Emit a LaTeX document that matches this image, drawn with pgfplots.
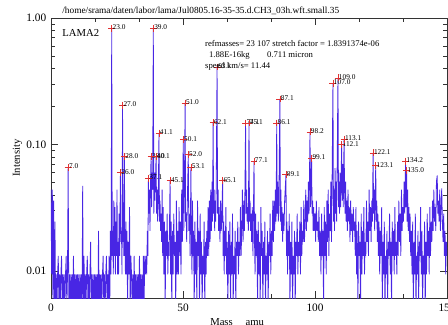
\documentclass[border=0pt]{standalone}
\usepackage{pgfplots}
\pgfplotsset{compat=1.18}
\usepackage{fontspec}
\setmainfont{Liberation Serif}
\definecolor{spec}{RGB}{72,38,228}
\definecolor{mk}{RGB}{225,50,50}
\begin{document}
\begin{tikzpicture}
\useasboundingbox (-38.25pt,-19.5pt) rectangle (297.75pt,223.5pt);
\begin{axis}[
  at={(0,0)}, anchor=south west,
  width=297pt, height=210pt, scale only axis,
  xmin=0, xmax=150, ymode=log, ymin=0.00612, ymax=1.0,
  xtick={0,50,100,150}, minor x tick num=2,
  ytick={0.01,0.1,1}, yticklabels={0.01,0.10,1.00},
  tick align=inside, major tick length=5pt, minor tick length=2.8pt,
  tick style={black!80, line width=0.4pt},
  axis line style={black!80, line width=0.4pt},
  /pgf/number format/assume math mode=true,
  tick label style={font=\fontsize{8.5}{9}\selectfont},
  xticklabel style={yshift=-1pt},
  xlabel={Mass\hspace{1.2em}amu},
  ylabel={Intensity},
  label style={font=\fontsize{8}{9}\selectfont},
  xlabel style={at={(axis description cs:0.47,0)}, anchor=north, yshift=-12pt},
  ylabel style={at={(axis description cs:0,0.5)}, anchor=south, yshift=18pt},
  clip mode=individual,
]
\addplot[spec, line width=0.6pt] coordinates {
(0,0.044)(0.25,0.0094)(0.5,0.044)(0.75,0.005)(1,0.036)(1.25,0.005)(1.5,0.0246)(1.75,0.005)(2,0.0094)(2.25,0.005)(2.5,0.0094)(2.75,0.0132)(3,0.005)(3.25,0.0094)(3.5,0.005)(3.75,0.0094)(4,0.0132)(4.25,0.005)(4.5,0.0094)(4.75,0.005)(5,0.0094)(5.25,0.005)(5.5,0.0094)(5.75,0.0132)(6,0.005)(6.25,0.0094)(6.5,0.066)(6.75,0.005)(7,0.0094)(7.25,0.005)(7.5,0.0094)(7.75,0.005)(8,0.0094)(8.25,0.005)(8.5,0.0132)(8.75,0.005)(9,0.0094)(9.25,0.005)(9.5,0.0094)(9.75,0.005)(10,0.0094)(10.25,0.005)(10.5,0.0094)(10.75,0.005)(11,0.0094)(11.25,0.005)(11.5,0.0094)(11.75,0.005)(12,0.047)(12.25,0.005)(12.5,0.0132)(12.75,0.005)(13,0.0094)(13.25,0.005)(13.5,0.0094)(13.75,0.0132)(14,0.005)(14.25,0.0094)(14.5,0.005)(14.75,0.0094)(15,0.017)(15.25,0.005)(15.5,0.0094)(15.75,0.005)(16,0.0094)(16.25,0.005)(16.5,0.0094)(16.75,0.005)(17,0.0094)(17.25,0.005)(17.5,0.0094)(17.75,0.005)(18,0.0208)(18.25,0.005)(18.5,0.0094)(18.75,0.005)(19,0.0094)(19.25,0.005)(19.5,0.0094)(19.75,0.0132)(20,0.005)(20.25,0.0094)(20.5,0.005)(20.75,0.0094)(21,0.0132)(21.25,0.005)(21.5,0.0094)(21.75,0.005)
(22,0.0132)(22.25,0.005)(22.5,0.0208)(22.75,0.0094)(23,0.83)(23.2,0.0132)(23.4,0.0208)(23.6,0.0094)(23.8,0.036)(24,0.0132)(24.2,0.032)(24.4,0.0094)(24.6,0.0246)(24.8,0.0132)(25,0.044)(25.2,0.0094)(25.4,0.017)(25.6,0.0094)(25.8,0.0284)(26,0.0132)(26.3,0.06)(26.5,0.017)(26.7,0.0208)(26.9,0.0094)(27.1,0.205)(27.3,0.017)(27.5,0.0208)(27.6,0.0132)(27.8,0.08)(28,0.017)(28.2,0.0094)(28.4,0.0246)(28.6,0.0094)(28.8,0.0208)(29,0.005)(29.25,0.017)(29.5,0.0094)(29.75,0.032)(30,0.005)(30.25,0.0132)(30.5,0.0094)
(30.75,0.005)(31,0.0094)(31.25,0.005)(31.5,0.0132)(31.75,0.005)(32,0.0094)(32.25,0.005)(32.5,0.0094)(32.75,0.005)(33,0.0094)(33.25,0.005)(33.5,0.0132)(33.75,0.005)(34,0.0094)(34.25,0.005)(34.5,0.0094)(34.75,0.005)(35,0.0132)(35.25,0.005)(35.5,0.0132)(35.75,0.0094)(36,0.0132)
(36.25,0.0094)(36.5,0.0208)(36.7,0.0132)(36.9,0.054)(37.1,0.0284)(37.3,0.044)(37.5,0.0208)(37.7,0.051)(37.9,0.08)(38.1,0.032)(38.3,0.06)(38.5,0.044)(38.75,0.83)(38.95,0.0284)(39.15,0.06)(39.35,0.036)(39.55,0.051)(39.8,0.08)(40,0.0284)(40.2,0.044)(40.4,0.0246)(40.6,0.032)(40.9,0.123)(41.1,0.0246)(41.3,0.036)(41.5,0.0208)(41.7,0.0284)(41.9,0.017)(42.1,0.044)(42.3,0.0132)(42.5,0.032)(42.75,0.0094)(43,0.0246)(43.25,0.005)(43.5,0.0208)(43.75,0.0132)(44,0.0284)(44.25,0.0094)(44.5,0.017)(44.75,0.0132)(45.1,0.052)(45.3,0.0094)(45.5,0.0246)(45.75,0.005)(46,0.0208)(46.25,0.0094)(46.5,0.0284)(46.75,0.0132)(47,0.017)(47.25,0.005)(47.5,0.036)(47.75,0.0094)(48,0.0208)
(48.25,0.0094)(48.5,0.032)(48.75,0.0132)(49,0.0246)(49.25,0.0094)(49.5,0.044)(49.75,0.017)(50.1,0.109)(50.3,0.0208)(50.5,0.036)(50.8,0.213)(51,0.0246)(51.2,0.0284)(51.4,0.017)(51.6,0.032)(52,0.083)(52.2,0.0208)(52.4,0.0284)(52.7,0.0132)(53,0.066)(53.2,0.017)(53.4,0.0094)(53.6,0.036)(53.8,0.0132)(54,0.0208)(54.25,0.005)(54.5,0.0246)(54.75,0.0094)(55,0.017)(55.25,0.005)(55.5,0.036)(55.75,0.0132)(56,0.0208)(56.25,0.005)(56.5,0.0284)(56.75,0.0094)(57,0.017)(57.25,0.005)(57.5,0.0132)(57.75,0.0094)(58,0.0246)(58.25,0.005)(58.5,0.017)(58.75,0.0094)(59,0.0208)(59.25,0.0132)(59.5,0.032)(59.75,0.0132)(60,0.036)
(60.25,0.017)(60.5,0.044)(60.75,0.0208)(61,0.051)(61.2,0.0246)(61.4,0.149)(61.6,0.0284)(61.8,0.044)(62,0.0208)(62.2,0.036)(62.4,0.0246)(62.6,0.051)(62.9,0.41)(63.1,0.0284)(63.3,0.044)(63.5,0.0208)(63.7,0.032)(64,0.017)(64.25,0.036)(64.5,0.0208)(64.75,0.0284)(65,0.052)(65.2,0.0132)(65.4,0.0246)(65.6,0.0094)(65.8,0.0208)(66,0.0132)(66.25,0.032)(66.5,0.0094)(66.75,0.017)(67,0.005)(67.25,0.0208)(67.5,0.0094)(67.75,0.0246)(68,0.005)(68.25,0.017)(68.5,0.0094)(68.75,0.0284)(69,0.005)(69.25,0.0132)(69.5,0.0094)(69.75,0.0208)(70,0.005)(70.25,0.017)(70.5,0.0132)(70.75,0.0246)(71,0.0094)(71.25,0.017)(71.5,0.0132)(71.75,0.032)(72,0.0132)
(72.25,0.0208)(72.5,0.044)(72.75,0.017)(73,0.036)(73.25,0.0208)(73.5,0.051)(73.7,0.148)(73.9,0.0284)(74.1,0.044)(74.3,0.0246)(74.5,0.032)(74.75,0.0208)(75,0.148)(75.2,0.0246)(75.4,0.036)(75.6,0.0208)(75.8,0.0284)(76,0.017)(76.25,0.032)(76.5,0.0132)(76.9,0.074)(77.1,0.017)(77.3,0.0094)(77.5,0.0284)(77.75,0.0132)(78,0.0208)(78.25,0.005)(78.5,0.0246)(78.75,0.0094)(79,0.017)(79.25,0.005)(79.5,0.032)(79.75,0.0132)(80,0.0208)(80.25,0.005)(80.5,0.017)(80.75,0.0094)(81,0.0246)(81.25,0.005)(81.5,0.0132)(81.75,0.0094)(82,0.0208)(82.25,0.005)(82.5,0.017)(82.75,0.0132)(83,0.0284)(83.25,0.0094)(83.5,0.0208)(83.75,0.0132)(84,0.036)
(84.25,0.017)(84.5,0.036)(84.75,0.0208)(85,0.044)(85.25,0.0246)(85.5,0.148)(85.7,0.0284)(85.9,0.051)(86.1,0.0246)(86.3,0.032)(86.7,0.229)(86.9,0.0246)(87.1,0.044)(87.3,0.0208)(87.5,0.032)(87.75,0.017)(88,0.0284)(88.25,0.0208)(88.5,0.036)(89,0.058)(89.2,0.0132)(89.4,0.0246)(89.6,0.0094)(89.8,0.0208)(90,0.0132)(90.25,0.0284)(90.5,0.005)(90.75,0.017)(91,0.0094)(91.25,0.0246)(91.5,0.005)(91.75,0.0132)(92,0.0094)(92.25,0.0208)(92.5,0.005)(92.75,0.017)(93,0.0132)(93.25,0.0284)(93.5,0.0094)(93.75,0.017)(94,0.0132)(94.25,0.0246)(94.5,0.0094)(94.75,0.032)(95,0.0132)(95.25,0.0208)(95.5,0.017)(95.75,0.036)(96,0.017)
(96.25,0.0246)(96.5,0.044)(96.75,0.0208)(97,0.036)(97.25,0.0246)(97.5,0.051)(97.75,0.0284)(98.1,0.126)(98.3,0.032)(98.5,0.044)(98.7,0.078)(98.9,0.0284)(99.1,0.036)(99.3,0.0208)(99.5,0.032)(99.75,0.0208)(100,0.0284)(100.25,0.017)(100.5,0.036)(100.75,0.0208)(101,0.0246)(101.25,0.017)(101.5,0.032)(101.75,0.0132)(102,0.0208)
(102.25,0.0094)(102.5,0.0284)(102.75,0.0132)(103,0.0208)(103.25,0.005)(103.5,0.032)(103.75,0.0132)(104,0.0246)(104.25,0.0094)(104.5,0.036)(104.75,0.017)(105,0.044)(105.25,0.0132)(105.5,0.0284)(105.75,0.0208)(106,0.051)(106.25,0.017)(106.5,0.06)(106.8,0.306)(107,0.0246)(107.2,0.044)(107.4,0.0208)(107.6,0.065)(107.8,0.0284)(108,0.051)(108.2,0.0246)(108.4,0.07)(108.7,0.336)(108.9,0.032)(109.1,0.051)(109.3,0.0284)(109.5,0.06)(109.7,0.032)(110.1,0.1)(110.3,0.036)(110.5,0.07)(110.7,0.032)(111,0.11)(111.2,0.044)(111.4,0.0284)(111.6,0.051)(111.8,0.0246)(112,0.036)(112.25,0.0208)(112.5,0.044)(112.75,0.0246)(113,0.032)(113.25,0.017)(113.5,0.036)(113.75,0.0208)(114,0.0284)(114.25,0.017)(114.5,0.032)(114.75,0.0208)(115,0.0246)(115.25,0.0132)(115.5,0.032)(115.75,0.0094)(116,0.0208)
(116.25,0.005)(116.5,0.0246)(116.75,0.0132)(117,0.017)(117.25,0.005)(117.5,0.0284)(117.75,0.0094)(118,0.0208)(118.25,0.0132)(118.5,0.032)(118.75,0.0094)(119,0.017)(119.25,0.0132)(119.5,0.036)(119.75,0.017)(120,0.0246)(120.25,0.0132)(120.5,0.044)(120.75,0.0208)(121,0.032)(121.25,0.017)(121.5,0.036)(121.75,0.0246)(122,0.086)(122.2,0.0284)(122.4,0.044)(122.6,0.0208)(123,0.068)(123.2,0.0246)(123.4,0.036)(123.6,0.017)(123.8,0.0284)(124,0.0132)(124.25,0.0246)(124.5,0.0094)(124.75,0.0208)(125,0.0132)(125.25,0.032)(125.5,0.005)(125.75,0.017)(126,0.0094)(126.25,0.0246)(126.5,0.005)(126.75,0.0132)(127,0.0094)(127.25,0.0208)(127.5,0.005)(127.75,0.017)(128,0.0132)
(128.25,0.0284)(128.5,0.0094)(128.75,0.017)(129,0.005)(129.25,0.0246)(129.5,0.0132)(129.75,0.0208)(130,0.0094)(130.25,0.032)(130.5,0.0132)(130.75,0.017)(131,0.0094)(131.25,0.0246)(131.5,0.0132)(131.75,0.036)(132,0.017)(132.25,0.0284)(132.5,0.0132)(132.75,0.044)(133,0.0208)(133.25,0.032)(133.5,0.0246)(133.75,0.051)(134,0.0284)(134.3,0.074)(134.5,0.032)(134.7,0.062)(134.9,0.0246)(135.1,0.044)(135.3,0.0208)(135.6,0.032)(135.8,0.017)(136,0.0284)(136.25,0.0132)(136.5,0.0208)(136.75,0.0094)(137,0.0246)(137.25,0.005)(137.5,0.017)(137.75,0.0094)(138,0.0284)(138.25,0.005)(138.5,0.0132)(138.75,0.0094)(139,0.0208)(139.25,0.005)(139.5,0.017)(139.75,0.0132)(140,0.032)
(140.25,0.0094)(140.5,0.0208)(140.75,0.005)(141,0.0132)(141.25,0.0094)(141.5,0.0246)(141.75,0.005)(142,0.017)(142.25,0.0094)(142.5,0.0284)(142.75,0.0132)(143,0.0208)(143.25,0.0094)(143.5,0.032)(143.75,0.0132)(144,0.0246)(144.25,0.017)(144.5,0.036)(144.75,0.0208)(145,0.044)(145.25,0.0246)(145.5,0.032)(145.75,0.0208)(146,0.051)(146.3,0.057)(146.5,0.0284)(146.75,0.036)(147,0.0246)(147.25,0.044)(147.5,0.0208)(147.75,0.032)(148,0.045)(148.25,0.0246)(148.5,0.017)(148.75,0.0284)(149,0.0132)(149.25,0.0208)(149.5,0.0094)(149.75,0.017)(150,0.0132)
};
\addplot[only marks, mark=+, mark size=2.6pt, mk, line width=0.45pt,
  point meta=explicit symbolic, nodes near coords,
  nodes near coords style={anchor=south west, inner sep=0pt, xshift=0.5pt, yshift=-1.5pt,
    font=\fontsize{5.5}{6}\selectfont, text=black}]
 table[meta=l] {
x y l
6.5 0.066 7.0
23.0 0.83 23.0
26.3 0.060 26.0
27.1 0.205 27.0
27.8 0.080 28.0
36.9 0.054 37.1
37.9 0.080 38.0
38.75 0.83 39.0
39.8 0.080 40.1
40.9 0.123 41.1
45.1 0.052 45.1
50.1 0.109 50.1
50.8 0.213 51.0
52.0 0.083 52.0
53.0 0.066 53.1
61.4 0.149 62.1
62.9 0.41 63.1
65.0 0.052 65.1
73.7 0.148 74.1
75.0 0.148 75.1
76.9 0.074 77.1
85.5 0.148 86.1
86.7 0.229 87.1
89.0 0.058 89.1
98.1 0.126 98.2
98.7 0.078 99.1
106.8 0.306 107.0
108.7 0.336 109.0
110.1 0.10 112.1
111.0 0.11 113.1
122.0 0.086 122.1
123.0 0.068 123.1
134.3 0.074 134.2
134.7 0.062 135.0
};
\node[anchor=south west, inner sep=0pt, font=\fontsize{7}{8}\selectfont] at (axis cs:4.2,1.0) [yshift=2pt] {/home/srama/daten/labor/lama/Jul0805.16-35-35.d.CH3\_03h.wft.small.35};
\node[anchor=west, inner sep=0pt, font=\fontsize{8}{9}\selectfont] at (axis cs:4.2,0.76) {LAMA2};
\node[anchor=west, inner sep=0pt, font=\fontsize{6.5}{7}\selectfont] at (axis cs:58.3,0.634) {refmasses= 23 107 stretch factor = 1.8391374e-06};
\node[anchor=west, inner sep=0pt, font=\fontsize{6.5}{7}\selectfont] at (axis cs:59.8,0.51) {1.88E-16kg\hspace{2em}0.711 micron};
\node[anchor=west, inner sep=0pt, font=\fontsize{6.5}{7}\selectfont] at (axis cs:58.3,0.417) {speed km/s= 11.44};
\end{axis}
\end{tikzpicture}
\end{document}
